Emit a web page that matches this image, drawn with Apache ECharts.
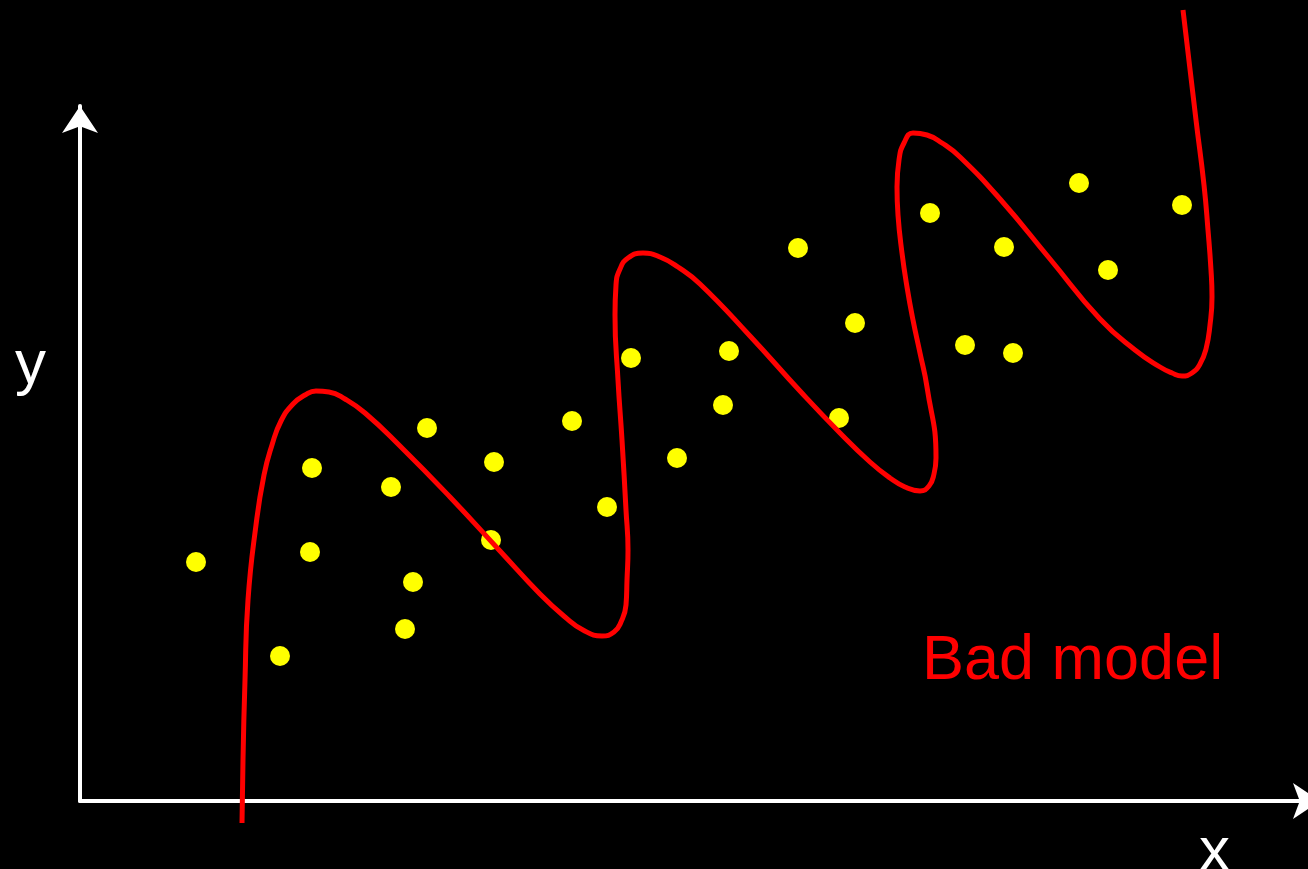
<!DOCTYPE html>
<html>
<head>
<meta charset="utf-8">
<title>Bad model</title>
<script src="https://cdn.jsdelivr.net/npm/echarts@6/dist/echarts.min.js"></script>
<style>
  html, body { margin: 0; padding: 0; background: #000; }
  #chart { width: 1308px; height: 869px; }
</style>
</head>
<body>
<div id="chart"></div>
<script>
// Observed samples (x, y)
const sampleX = [116, 200, 232, 230, 311, 347, 333, 325, 414, 411, 492, 527, 551,
                 597, 649, 643, 718, 775, 759, 850, 885, 924, 933, 999, 1028, 1102];
const sampleY = [239, 145, 333, 249, 314, 373, 219, 172, 339, 261, 380, 294, 443,
                 343, 450, 396, 553, 478, 383, 588, 456, 554, 448, 618, 531, 596];

// Over-fitted model curve, listed in path order (it doubles back on itself);
// denser around the turns, sparser along the straight runs
const modelX = [162, 163, 165, 168, 176, 184, 192, 201, 213, 225, 236, 249, 265, 285,
                320, 370, 420, 460, 485, 503, 522, 534, 541, 546, 547, 548, 546, 542,
                538, 535, 536, 540, 548, 563, 580, 598, 620, 670, 720, 760, 790, 810,
                825, 840, 849, 854, 856, 847, 840, 833, 827, 822, 818, 817, 819,
                824, 833, 847, 862, 880, 920, 970, 1020, 1055, 1080, 1092, 1102, 1112,
                1120, 1126, 1130, 1132, 1131, 1128, 1124, 1116, 1103];
const modelY = [-22, 41, 121, 201, 276, 326, 356, 380, 397, 406, 410, 409, 402, 388,
                355, 304, 250, 207, 184, 171, 165, 169, 179, 196, 221, 251, 291, 361,
                421, 486, 516, 532, 543, 548, 544, 534, 517, 465, 410, 368, 339, 323,
                314, 310, 315, 327, 343, 414, 448, 481, 514, 548, 586, 614, 641,
                658, 668, 666, 658, 644, 602, 542, 482, 451, 434, 428, 425, 428,
                437, 452, 476, 504, 531, 571, 616, 681, 791];

const axisNames = { x: 'x', y: 'y' };
const annotation = 'Bad model';

const samples = sampleX.map((x, i) => [x, sampleY[i]]);
const model = modelX.map((x, i) => [x, modelY[i]]);

const chart = echarts.init(document.getElementById('chart'), null, { renderer: 'canvas' });

function axis(max, endOffset) {
  return {
    type: 'value',
    min: 0,
    max: max,
    axisLine: {
      show: true,
      symbol: ['none', 'arrow'],
      symbolSize: [27, 27],
      symbolOffset: [0, endOffset],
      lineStyle: { color: '#ffffff', width: 4 }
    },
    axisTick: { show: false },
    axisLabel: { show: false },
    splitLine: { show: false }
  };
}

const labelFont = '62px "Liberation Sans", Arial, sans-serif';

chart.setOption({
  backgroundColor: '#000000',
  animation: false,
  grid: { left: 80, right: 0, top: 106, bottom: 68 },
  xAxis: axis(1228, 12),
  yAxis: axis(695, 0),
  graphic: [
    {
      type: 'text', left: 15, top: 335,
      style: { text: axisNames.y, font: labelFont, fill: '#ffffff' }
    },
    {
      type: 'text', left: 1199, top: 822,
      style: { text: axisNames.x, font: labelFont, fill: '#ffffff' }
    },
    {
      type: 'text', left: 922, top: 630,
      style: { text: annotation, font: '63px "Liberation Sans", Arial, sans-serif', fill: '#ff0000' }
    }
  ],
  series: [
    {
      type: 'scatter',
      data: samples,
      symbol: 'circle',
      symbolSize: 20,
      itemStyle: { color: '#ffff00', opacity: 1 },
      z: 2
    },
    {
      type: 'line',
      data: model,
      showSymbol: false,
      symbol: 'none',
      smooth: 0.5,
      clip: false,
      lineStyle: { color: '#ff0000', width: 5 },
      z: 3
    }
  ]
});
</script>
</body>
</html>
